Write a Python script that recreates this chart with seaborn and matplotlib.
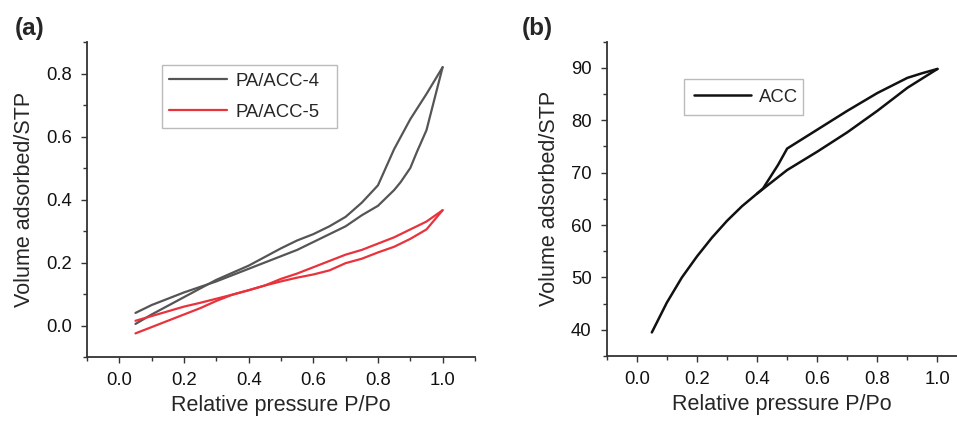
import numpy as np
import pandas as pd
import matplotlib
matplotlib.use("Agg")
import matplotlib.pyplot as plt
from matplotlib.ticker import MultipleLocator
import seaborn as sns

# panel (a) - PA/ACC-4 hysteresis loop, two branches
pa4_up_x = [0.05, 0.1, 0.2, 0.3, 0.4, 0.5, 0.55, 0.6, 0.65, 0.7, 0.75, 0.8, 0.85, 0.9, 0.95, 1.0]
pa4_up_y = [0.005, 0.035, 0.09, 0.145, 0.19, 0.245, 0.27, 0.29, 0.315, 0.345, 0.39, 0.445, 0.56, 0.655, 0.735, 0.82]
pa4_lo_x = [0.05, 0.1, 0.2, 0.3, 0.4, 0.5, 0.55, 0.6, 0.65, 0.7, 0.75, 0.8, 0.85, 0.87, 0.9, 0.92, 0.95, 0.97, 1.0]
pa4_lo_y = [0.04, 0.065, 0.105, 0.14, 0.18, 0.22, 0.24, 0.265, 0.29, 0.315, 0.35, 0.38, 0.43, 0.455, 0.5, 0.55, 0.62, 0.70, 0.82]

# PA/ACC-5
pa5_a_x = [0.05, 0.1, 0.15, 0.2, 0.25, 0.3, 0.35, 0.4, 0.45, 0.5, 0.55, 0.6, 0.65, 0.7, 0.75, 0.8, 0.85, 0.9, 0.95, 1.0]
pa5_a_y = [0.015, 0.03, 0.045, 0.06, 0.072, 0.085, 0.098, 0.112, 0.127, 0.148, 0.165, 0.185, 0.205, 0.225, 0.24, 0.26, 0.28, 0.305, 0.33, 0.366]
pa5_b_x = [0.05, 0.1, 0.15, 0.2, 0.25, 0.3, 0.35, 0.4, 0.45, 0.5, 0.55, 0.6, 0.65, 0.7, 0.75, 0.8, 0.85, 0.9, 0.95, 1.0]
pa5_b_y = [-0.025, -0.005, 0.015, 0.035, 0.055, 0.078, 0.098, 0.112, 0.127, 0.14, 0.152, 0.162, 0.175, 0.198, 0.212, 0.232, 0.25, 0.275, 0.305, 0.366]

# panel (b) - ACC
acc_ads_x = [0.05, 0.1, 0.15, 0.2, 0.25, 0.3, 0.35, 0.4, 0.5, 0.6, 0.7, 0.8, 0.9, 1.0]
acc_ads_y = [39.5, 45.2, 50.0, 54.0, 57.6, 60.8, 63.6, 66.0, 70.5, 74.0, 77.7, 81.8, 86.2, 89.8]
acc_des_x = [1.0, 0.95, 0.9, 0.8, 0.7, 0.6, 0.5, 0.47, 0.42, 0.4]
acc_des_y = [89.8, 89.0, 88.1, 85.2, 81.8, 78.2, 74.6, 71.5, 67.0, 66.0]


def branch_frame(sample, branch, xs, ys):
    return pd.DataFrame({"x": xs, "y": ys, "sample": sample, "branch": branch})


df_a = pd.concat([
    branch_frame("PA/ACC-4", 1, pa4_up_x, pa4_up_y),
    branch_frame("PA/ACC-4", 2, pa4_lo_x, pa4_lo_y),
    branch_frame("PA/ACC-5", 3, pa5_a_x, pa5_a_y),
    branch_frame("PA/ACC-5", 4, pa5_b_x, pa5_b_y),
])
df_b = pd.concat([
    branch_frame("ACC", 1, acc_ads_x, acc_ads_y),
    branch_frame("ACC", 2, acc_des_x, acc_des_y),
])

sns.set_style("ticks")
plt.rcParams["font.family"] = ["Liberation Sans", "DejaVu Sans"]

fig = plt.figure(figsize=(9.57, 4.23), dpi=100)
ax1 = fig.add_axes([0.0909, 0.156, 0.4054, 0.7447])
ax2 = fig.add_axes([0.634, 0.1584, 0.366, 0.743])

sns.lineplot(data=df_a, x="x", y="y", hue="sample", units="branch", estimator=None,
             sort=False, palette={"PA/ACC-4": "#555555", "PA/ACC-5": "#e8323c"},
             linewidth=1.6, ax=ax1)
sns.lineplot(data=df_b, x="x", y="y", hue="sample", units="branch", estimator=None,
             sort=False, palette={"ACC": "#111111"}, linewidth=1.8, ax=ax2)

spine_col = "#333333"
for ax in (ax1, ax2):
    sns.despine(ax=ax)
    ax.set_xlim(-0.1, 1.1)
    ax.xaxis.set_major_locator(MultipleLocator(0.2))
    ax.xaxis.set_minor_locator(MultipleLocator(0.1))
    for s in ("left", "bottom"):
        ax.spines[s].set_color(spine_col)
        ax.spines[s].set_linewidth(1.3)
    ax.tick_params(which="both", direction="out", color=spine_col, width=1.0,
                   labelsize=13.3, labelcolor="#111111")
    ax.tick_params(which="major", length=4, pad=7)
    ax.tick_params(which="minor", length=3)
    ax.set_xlabel("Relative pressure P/Po", fontsize=15.5, labelpad=4)
    ax.set_ylabel("Volume adsorbed/STP", fontsize=15.5, labelpad=8)

ax1.set_ylim(-0.1, 0.9)
ax1.yaxis.set_major_locator(MultipleLocator(0.2))
ax1.yaxis.set_minor_locator(MultipleLocator(0.1))
ax2.set_xlim(-0.1, 1.065)
ax2.set_ylim(35, 95)
ax2.yaxis.set_major_locator(MultipleLocator(10))
ax2.yaxis.set_minor_locator(MultipleLocator(5))

leg_kw = dict(loc="upper left", title=None, fontsize=13.3, frameon=True, fancybox=False,
              framealpha=1, edgecolor="#bbbbbb", borderaxespad=0, mode="expand",
              handlelength=3.1, handletextpad=0.45, borderpad=0.41, labelspacing=0.76)
ax1.legend(bbox_to_anchor=(0.193, 0.927, 0.451, 0.0), **leg_kw)
leg_kw["borderpad"] = 0.52
ax2.legend(bbox_to_anchor=(0.221, 0.881, 0.34, 0.0), **leg_kw)
for ax in (ax1, ax2):
    ax.get_legend().get_frame().set_linewidth(1.0)

fig.text(0.0157, 0.917, "(a)", fontsize=17.5, fontweight="bold")
fig.text(0.545, 0.917, "(b)", fontsize=17.5, fontweight="bold")

fig.savefig("out.png", dpi=100)
